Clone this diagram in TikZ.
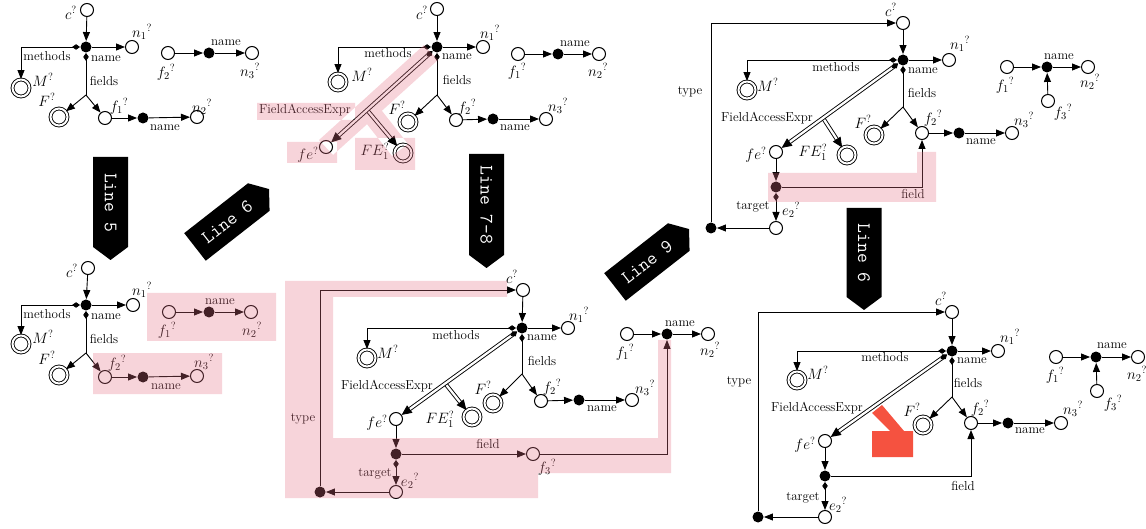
\RequirePackage{fix-cm}
\documentclass[tikz,border=0pt]{standalone}
\usetikzlibrary{arrows.meta,calc}
\newcommand\ptr[6]{%
  \begin{scope}[shift={(#2,#3)},rotate=#4]
    \fill (-#5,-17.5) -- ({#5-13},-17.5) -- (#5,0) -- ({#5-13},17.5) -- (-#5,17.5) -- cycle;
    \node[ptxt] (#1) at (-6,0) {#6};
  \end{scope}}
\tikzset{
  op/.style={circle,draw,fill=white,minimum size=13pt,inner sep=0pt,line width=1pt},
  bk/.style={circle,fill=black,minimum size=11pt,inner sep=0pt},
  dc/.style={circle,draw,double=white,double distance=2pt,minimum size=17pt,inner sep=0pt,line width=0.9pt},
  arr/.style={-{Triangle[length=9pt,width=7pt]}},
  darr/.style={{Diamond[length=8pt,width=5.5pt]}-{Triangle[length=9pt,width=7pt]}},
  dline/.style={{Diamond[length=8pt,width=5.5pt]}-},
  dbl/.style={double=white,double distance=2.3pt,line width=0.9pt},
  dblarr/.style={dbl,{Diamond[length=8pt,width=6pt]}-{Triangle[length=10pt,width=9pt]}},
  brarr/.style={dbl,-{Triangle[length=10pt,width=9pt]}},
  txt/.style={font=\fontsize{13}{15}\selectfont,inner sep=0pt},
  mth/.style={font=\fontsize{15}{17}\selectfont,inner sep=0pt},
  ptxt/.style={font=\fontsize{19}{21}\selectfont\ttfamily,text=white,transform shape,inner sep=0pt},
  hl/.style={fill={rgb,255:red,228;green,112;blue,132},opacity=0.3},
}
\definecolor{delred}{RGB}{245,82,64}
\begin{document}
\begin{tikzpicture}[x=1pt,y=-1pt,line width=0.9pt]
\useasboundingbox (0,0) rectangle (1146,529);

%%%%%%%% Panel A
\node[op] (A-c) at (87,10) {};
\node[bk] (A-h) at (86,47) {};
\node[op] (A-n1) at (132,47) {};
\node[dc] (A-M) at (21,88) {};
\coordinate (A-br) at (86,95);
\node[dc] (A-F) at (59,117) {};
\node[op] (A-f1) at (105,118) {};
\node[bk] (A-b1) at (143,118) {};
\node[op] (A-n2) at (197,117) {};
\node[op] (A-f2) at (168,53) {};
\node[bk] (A-b2) at (209,53) {};
\node[op] (A-n3) at (252,53) {};
\node[mth] (A-cl) at (71,13) {$c^?$};
\node[mth] (A-n1l) at (142,32) {${n_1}^?$};
\node[mth] (A-Ml) at (43,80) {$M^?$};
\node[txt] (A-ml) at (47,56) {methods};
\node[txt] (A-nl) at (106,59) {name};
\node[txt] (A-fl) at (104,81) {fields};
\node[mth] (A-Fl) at (47,100) {$F^?$};
\node[mth] (A-f1l) at (119,106) {${f_1}^?$};
\node[mth] (A-n2l) at (202,107) {${n_2}^?$};
\node[txt] (A-nl2) at (165,128) {name};
\node[mth] (A-f2l) at (166,72) {${f_2}^?$};
\node[txt] (A-nl3) at (226,43) {name};
\node[mth] (A-n3l) at (250,71) {${n_3}^?$};
\draw[arr] (A-c) -- (A-h);
\draw[arr] (A-h) -- (A-n1);
\draw[darr] (A-h) -| (A-M);
\draw[dline] (A-h) -- (A-br);
\draw[arr] (A-br) -- (A-F);
\draw[arr] (A-br) -- (A-f1);
\draw[arr] (A-f1) -- (A-b1);
\draw[arr] (A-b1) -- (A-n2);
\draw[arr] (A-f2) -- (A-b2);
\draw[arr] (A-b2) -- (A-n3);

%%%%%%%% Panel C
\node[op] (C-c) at (88,268) {};
\node[bk] (C-h) at (86,305) {};
\node[op] (C-n1) at (133,305) {};
\node[dc] (C-M) at (21,344) {};
\coordinate (C-br) at (86,353);
\node[dc] (C-F) at (59,375) {};
\node[op] (C-f2) at (105,377) {};
\node[bk] (C-b1) at (143,377) {};
\node[op] (C-n3) at (197,376) {};
\node[op] (C-f1) at (169,312) {};
\node[bk] (C-b2) at (209,312) {};
\node[op] (C-n2) at (251,312) {};
\node[mth] (C-cl) at (72,271) {$c^?$};
\node[mth] (C-n1l) at (142,290) {${n_1}^?$};
\node[mth] (C-Ml) at (43,337) {$M^?$};
\node[txt] (C-ml) at (47,314) {methods};
\node[txt] (C-nl) at (106,317) {name};
\node[txt] (C-fl) at (104,339) {fields};
\node[mth] (C-Fl) at (47,358) {$F^?$};
\node[mth] (C-f2l) at (117,363) {${f_2}^?$};
\node[mth] (C-n3l) at (204,362) {${n_3}^?$};
\node[txt] (C-nl2) at (166,387) {name};
\node[mth] (C-f1l) at (167,330) {${f_1}^?$};
\node[txt] (C-nl3) at (220,302) {name};
\node[mth] (C-n2l) at (252,330) {${n_2}^?$};
\draw[arr] (C-c) -- (C-h);
\draw[arr] (C-h) -- (C-n1);
\draw[darr] (C-h) -| (C-M);
\draw[dline] (C-h) -- (C-br);
\draw[arr] (C-br) -- (C-F);
\draw[arr] (C-br) -- (C-f2);
\draw[arr] (C-f2) -- (C-b1);
\draw[arr] (C-b1) -- (C-n3);
\draw[arr] (C-f1) -- (C-b2);
\draw[arr] (C-b2) -- (C-n2);

%%%%%%%% Panel B
\node[op] (B-c) at (437,9) {};
\node[bk] (B-h) at (437,47) {};
\node[op] (B-n1) at (483,47) {};
\node[dc] (B-M) at (338,82) {};
\coordinate (B-br) at (437,95);
\node[dc] (B-F) at (408,122) {};
\node[op] (B-f2) at (456,120) {};
\node[bk] (B-b1) at (493,119) {};
\node[op] (B-n3) at (546,119) {};
\node[op] (B-f1) at (518,54) {};
\node[bk] (B-b2) at (558,54) {};
\node[op] (B-n2) at (599,54) {};
\node[op] (B-fe) at (326,147) {};
\node[dc] (B-FE) at (403,153) {};
\coordinate (B-bp) at ($(B-h)!0.63!(B-fe)$);
\node[mth] (B-cl) at (422,13) {$c^?$};
\node[mth] (B-n1l) at (490,33) {${n_1}^?$};
\node[mth] (B-Ml) at (362,75) {$M^?$};
\node[txt] (B-ml) at (388,53) {methods};
\node[txt] (B-nl) at (457,57) {name};
\node[txt] (B-fl) at (457,80) {fields};
\node[mth] (B-Fl) at (397,108) {$F^?$};
\node[mth] (B-f2l) at (467,107) {${f_2}^?$};
\node[txt] (B-nl2) at (515,128) {name};
\node[mth] (B-n3l) at (558,106) {${n_3}^?$};
\node[txt] (B-nl3) at (575,44) {name};
\node[mth] (B-f1l) at (517,71) {${f_1}^?$};
\node[mth] (B-n2l) at (598,71) {${n_2}^?$};
\node[mth] (B-fel) at (308,155) {$fe^?$};
\node[mth] (B-FEl) at (375,151) {$FE_1^?$};
\node[txt] (B-fae) at (305,110) {FieldAccessExpr};
\draw[arr] (B-c) -- (B-h);
\draw[arr] (B-h) -- (B-n1);
\draw[darr] (B-h) -| (B-M);
\draw[dline] (B-h) -- (B-br);
\draw[arr] (B-br) -- (B-F);
\draw[arr] (B-br) -- (B-f2);
\draw[arr] (B-f2) -- (B-b1);
\draw[arr] (B-b1) -- (B-n3);
\draw[arr] (B-f1) -- (B-b2);
\draw[arr] (B-b2) -- (B-n2);
\draw[brarr] (B-bp) -- (B-FE);
\draw[dblarr] (B-h) -- (B-fe);

%%%%%%%% Panel D
\node[op] (D-c) at (523,290) {};
\node[bk] (D-h) at (522,328) {};
\node[op] (D-n1) at (568,328) {};
\node[dc] (D-M) at (367,358) {};
\coordinate (D-br) at (522,374);
\node[dc] (D-F) at (493,403) {};
\node[op] (D-f2) at (541,401) {};
\node[bk] (D-b1) at (579,400) {};
\node[op] (D-n3) at (632,400) {};
\node[op] (D-f1) at (627,334) {};
\node[bk] (D-b2) at (667,334) {};
\node[op] (D-n2) at (708,334) {};
\node[op] (D-fe) at (396,419) {};
\node[dc] (D-FE) at (472,417) {};
\coordinate (D-bp) at ($(D-h)!0.61!(D-fe)$);
\node[bk] (D-b3) at (396,454) {};
\node[op] (D-f3) at (533,454) {};
\node[op] (D-e2) at (396,492) {};
\node[bk] (D-tb) at (320,492) {};
\node[mth] (D-cl) at (512,277) {$c^?$};
\node[mth] (D-n1l) at (579,315) {${n_1}^?$};
\node[mth] (D-Ml) at (388,352) {$M^?$};
\node[txt] (D-ml) at (456,335) {methods};
\node[txt] (D-nl) at (542,338) {name};
\node[txt] (D-fl) at (542,361) {fields};
\node[mth] (D-Fl) at (483,388) {$F^?$};
\node[mth] (D-f2l) at (552,387) {${f_2}^?$};
\node[txt] (D-nl2) at (602,409) {name};
\node[mth] (D-n3l) at (645,388) {${n_3}^?$};
\node[mth] (D-f1l) at (625,352) {${f_1}^?$};
\node[txt] (D-nl3) at (680,324) {name};
\node[mth] (D-n2l) at (710,350) {${n_2}^?$};
\node[mth] (D-fel) at (377,423) {$fe^?$};
\node[mth] (D-FEl) at (440,419) {$FE_1^?$};
\node[txt] (D-fae) at (387,386) {FieldAccessExpr};
\node[txt] (D-fdl) at (488,444) {field};
\node[mth] (D-f3l) at (547,467) {${f_3}^?$};
\node[txt] (D-tgl) at (375,474) {target};
\node[mth] (D-e2l) at (410,481) {${e_2}^?$};
\node[txt] (D-tyl) at (303,419) {type};
\draw[arr] (D-c) -- (D-h);
\draw[arr] (D-h) -- (D-n1);
\draw[darr] (D-h) -| (D-M);
\draw[dline] (D-h) -- (D-br);
\draw[arr] (D-br) -- (D-F);
\draw[arr] (D-br) -- (D-f2);
\draw[arr] (D-f2) -- (D-b1);
\draw[arr] (D-b1) -- (D-n3);
\draw[arr] (D-f1) -- (D-b2);
\draw[arr] (D-b2) -- (D-n2);
\draw[brarr] (D-bp) -- (D-FE);
\draw[dblarr] (D-h) -- (D-fe);
\draw[arr] (D-fe) -- (D-b3);
\draw[arr] (D-b3) -- (D-f3);
\draw[arr] (D-f3) -| (D-b2);
\draw[darr] (D-b3) -- (D-e2);
\draw[arr] (D-e2) -- (D-tb);
\draw[arr] (D-tb) |- (D-c);

%%%%%%%% Panel E
\node[op] (E-c) at (903,23) {};
\node[bk] (E-h) at (903,60) {};
\node[op] (E-n1) at (949,60) {};
\node[dc] (E-M) at (747,90) {};
\coordinate (E-br) at (903,107);
\node[dc] (E-F) at (874,135) {};
\node[op] (E-f2) at (922,133) {};
\node[bk] (E-b1) at (959,133) {};
\node[op] (E-n3) at (1012,133) {};
\node[op] (E-f1) at (1007,67) {};
\node[bk] (E-b2) at (1047,67) {};
\node[op] (E-n2) at (1088,67) {};
\node[op] (E-f3) at (1048,101) {};
\node[op] (E-fe) at (776,152) {};
\node[dc] (E-FE) at (847,155) {};
\coordinate (E-bp) at ($(E-h)!0.63!(E-fe)$);
\node[bk] (E-b3) at (776,187) {};
\node[op] (E-e2) at (776,228) {};
\node[bk] (E-tb) at (711,228) {};
\node[mth] (E-cl) at (891,10) {$c^?$};
\node[mth] (E-n1l) at (960,44) {${n_1}^?$};
\node[mth] (E-Ml) at (768,85) {$M^?$};
\node[txt] (E-ml) at (836,67) {methods};
\node[txt] (E-nl) at (923,71) {name};
\node[txt] (E-fl) at (922,93) {fields};
\node[mth] (E-Fl) at (863,122) {$F^?$};
\node[mth] (E-f2l) at (933,118) {${f_2}^?$};
\node[txt] (E-nl2) at (981,142) {name};
\node[mth] (E-n3l) at (1024,120) {${n_3}^?$};
\node[mth] (E-f1l) at (1005,85) {${f_1}^?$};
\node[txt] (E-nl3) at (1059,57) {name};
\node[mth] (E-n2l) at (1090,82) {${n_2}^?$};
\node[mth] (E-f3l) at (1063,112) {${f_3}^?$};
\node[mth] (E-fel) at (756,155) {$fe^?$};
\node[mth] (E-FEl) at (813,152) {$FE_1^?$};
\node[txt] (E-fae) at (767,118) {FieldAccessExpr};
\node[txt] (E-fdl) at (913,194) {field};
\node[txt] (E-tgl) at (753,207) {target};
\node[mth] (E-e2l) at (791,210) {${e_2}^?$};
\node[txt] (E-tyl) at (690,92) {type};
\draw[arr] (E-c) -- (E-h);
\draw[arr] (E-h) -- (E-n1);
\draw[darr] (E-h) -| (E-M);
\draw[dline] (E-h) -- (E-br);
\draw[arr] (E-br) -- (E-F);
\draw[arr] (E-br) -- (E-f2);
\draw[arr] (E-f2) -- (E-b1);
\draw[arr] (E-b1) -- (E-n3);
\draw[arr] (E-f1) -- (E-b2);
\draw[arr] (E-b2) -- (E-n2);
\draw[arr] (E-f3) -- (E-b2);
\draw[brarr] (E-bp) -- (E-FE);
\draw[dblarr] (E-h) -- (E-fe);
\draw[arr] (E-fe) -- (E-b3);
\draw[arr] (E-b3) -| (E-f2);
\draw[darr] (E-b3) -- (E-e2);
\draw[arr] (E-e2) -- (E-tb);
\draw[arr] (E-tb) |- (E-c);

%%%%%%%% Panel F
\node[op] (F-c) at (952,312) {};
\node[bk] (F-h) at (952,351) {};
\node[op] (F-n1) at (998,351) {};
\node[dc] (F-M) at (797,380) {};
\coordinate (F-br) at (952,397);
\node[dc] (F-F) at (923,425) {};
\node[op] (F-f2) at (971,423) {};
\node[bk] (F-b1) at (1008,423) {};
\node[op] (F-n3) at (1061,423) {};
\node[op] (F-f1) at (1056,357) {};
\node[bk] (F-b2) at (1096,357) {};
\node[op] (F-n2) at (1138,357) {};
\node[op] (F-f3) at (1097,391) {};
\node[op] (F-fe) at (825,441) {};
\node[bk] (F-b3) at (825,476) {};
\node[op] (F-e2) at (825,517) {};
\node[bk] (F-tb) at (758,517) {};
\node[mth] (F-cl) at (941,299) {$c^?$};
\node[mth] (F-n1l) at (1010,337) {${n_1}^?$};
\node[mth] (F-Ml) at (818,373) {$M^?$};
\node[txt] (F-ml) at (885,357) {methods};
\node[txt] (F-nl) at (972,361) {name};
\node[txt] (F-fl) at (968,383) {fields};
\node[mth] (F-Fl) at (912,410) {$F^?$};
\node[mth] (F-f2l) at (980,408) {${f_2}^?$};
\node[txt] (F-nl2) at (1030,431) {name};
\node[mth] (F-n3l) at (1073,409) {${n_3}^?$};
\node[mth] (F-f1l) at (1055,375) {${f_1}^?$};
\node[txt] (F-nl3) at (1112,346) {name};
\node[mth] (F-n2l) at (1137,374) {${n_2}^?$};
\node[mth] (F-f3l) at (1113,403) {${f_3}^?$};
\node[mth] (F-fel) at (805,445) {$fe^?$};
\node[txt] (F-fae) at (817,408) {FieldAccessExpr};
\node[txt] (F-fdl) at (963,486) {field};
\node[txt] (F-tgl) at (803,498) {target};
\node[mth] (F-e2l) at (838,505) {${e_2}^?$};
\node[txt] (F-tyl) at (739,382) {type};
\draw[arr] (F-c) -- (F-h);
\draw[arr] (F-h) -- (F-n1);
\draw[darr] (F-h) -| (F-M);
\draw[dline] (F-h) -- (F-br);
\draw[arr] (F-br) -- (F-F);
\draw[arr] (F-br) -- (F-f2);
\draw[arr] (F-f2) -- (F-b1);
\draw[arr] (F-b1) -- (F-n3);
\draw[arr] (F-f1) -- (F-b2);
\draw[arr] (F-b2) -- (F-n2);
\draw[arr] (F-f3) -- (F-b2);
\draw[dblarr] (F-h) -- (F-fe);
\draw[arr] (F-fe) -- (F-b3);
\draw[arr] (F-b3) -| (F-f2);
\draw[darr] (F-b3) -- (F-e2);
\draw[arr] (F-e2) -- (F-tb);
\draw[arr] (F-tb) |- (F-c);
\fill[delred] (872,413) -- (882,405) -- (904,431) -- (913,431) -- (913,457) -- (872,457) -- (872,431) -- (890,431) -- cycle;

%%%%%%%% step pointers
\ptr{P5}{110.5}{208.5}{-90}{51.5}{Line 5}
\ptr{P6a}{232}{218}{38}{47}{Line 6}
\ptr{P78}{486.5}{211}{-90}{57}{Line 7-8}
\ptr{P9}{652}{258}{38}{47}{Line 9}
\ptr{P6b}{864}{259}{-90}{51}{Line 6}

%%%%%%%% highlights
\fill[hl] (257,103) rectangle (355,120)
  (287,142) rectangle (337,163)
  (355,138) rectangle (415,170)
  (424,45) -- (438,60) -- (333,155) -- (319,140) -- cycle
  (375,102) -- (408,144) -- (392,156) -- (359,114) -- cycle;
\fill[hl] (147,293) rectangle (276,341)
  (93,353) rectangle (222,394);
\fill[hl] (285,281) rectangle (507,297)
  (285,281) rectangle (333,498)
  (285,438) rectangle (538,498)
  (285,438) rectangle (671,473)
  (658,340) rectangle (671,473);
\fill[hl] (768,173) rectangle (936,202)
  (917,152) rectangle (936,202);
\end{tikzpicture}
\end{document}
